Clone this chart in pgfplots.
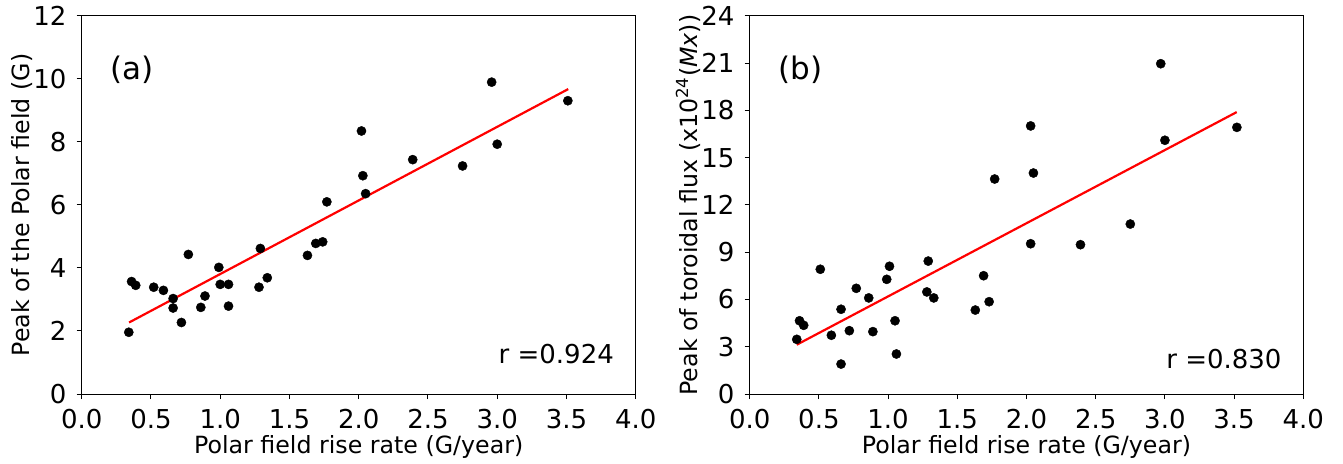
\documentclass[border=0pt]{standalone}
\usepackage{fontspec}
\setmainfont{DejaVu Sans}
\usepackage{pgfplots}
\usepackage{pgfplotstable}
\pgfplotsset{compat=1.18}

\pgfplotstableread{
x y
0.34 1.96
0.36 3.57
0.39 3.45
0.52 3.39
0.59 3.29
0.66 3.03
0.66 2.73
0.72 2.27
0.77 4.43
0.86 2.75
0.89 3.11
0.99 4.02
1.00 3.48
1.06 3.48
1.06 2.79
1.28 3.39
1.29 4.62
1.34 3.69
1.63 4.40
1.69 4.78
1.74 4.83
1.77 6.10
2.02 8.35
2.03 6.93
2.05 6.36
2.39 7.44
2.75 7.24
2.96 9.90
3.00 7.93
3.51 9.31
}\dataA

\pgfplotstableread{
x y
0.34 3.47
0.36 4.65
0.39 4.36
0.51 7.92
0.59 3.73
0.66 5.38
0.66 1.90
0.72 4.02
0.77 6.71
0.86 6.10
0.89 3.96
0.99 7.28
1.01 8.11
1.05 4.65
1.06 2.54
1.29 8.44
1.28 6.48
1.33 6.10
1.63 5.33
1.69 7.51
1.73 5.86
1.77 13.65
2.03 17.02
2.03 9.54
2.05 14.03
2.39 9.48
2.75 10.79
2.97 20.97
3.00 16.11
3.52 16.93
}\dataB

\begin{document}
\begin{tikzpicture}
\useasboundingbox (0,0) rectangle (1343pt,463pt);
\pgfplotsset{
  myax/.style={
    scale only axis, height=378pt,
    anchor=south west,
    xmin=0, xmax=4, ymin=0,
    xtick={0,0.5,1,1.5,2,2.5,3,3.5,4},
    xticklabels={0.0,0.5,1.0,1.5,2.0,2.5,3.0,3.5,4.0},
    tick align=outside, major tick length=5pt,
    xtick pos=bottom, ytick pos=left,
    axis line style={line width=1pt, black},
    tick style={line width=1pt, black},
    /pgf/number format/assume math mode=true,
    ticklabel style={font=\fontsize{26}{30}\selectfont, inner sep=0pt},
    xticklabel style={anchor=north, yshift=-10pt},
    yticklabel style={anchor=east, xshift=-10pt},
    label style={font=\fontsize{23.7}{28}\selectfont, inner sep=0pt},
    xlabel style={at={(axis description cs:0.5,0)}, anchor=base, yshift=-59pt},
    clip=false,
  }
}
\begin{axis}[myax, at={(81.7pt,69pt)}, width=554pt,
  ymax=12, ytick={0,2,4,6,8,10,12},
  xlabel={Polar field rise rate (G/year)},
  ylabel={Peak of the Polar field (G)},
  ylabel style={at={(axis description cs:-0.108,0.5)}, anchor=center, rotate=0},
]
\addplot[only marks, mark=*, mark size=4.6pt, black] table {\dataA};
\addplot[red, line width=2.2pt] coordinates {(0.342,2.27) (3.513,9.68)};
\node[font=\fontsize{31}{36}\selectfont, anchor=center] at (axis description cs:0.091,0.858) {(a)};
\node[font=\fontsize{26}{30}\selectfont, anchor=base east, inner sep=0pt] at (axis description cs:0.961,0.081) {r =0.924};
\end{axis}
\begin{axis}[myax, at={(749.7pt,69pt)}, width=553.6pt,
  ymax=24, ytick={0,3,6,9,12,15,18,21,24},
  xlabel={Polar field rise rate (G/year)},
  ylabel={Peak of toroidal flux (x10\textsuperscript{24}(\textit{Mx}))},
  ylabel style={at={(axis description cs:-0.1115,0.5)}, anchor=center, rotate=0},
]
\addplot[only marks, mark=*, mark size=4.6pt, black] table {\dataB};
\addplot[red, line width=2.2pt] coordinates {(0.34,3.13) (3.519,17.90)};
\node[font=\fontsize{31}{36}\selectfont, anchor=center] at (axis description cs:0.092,0.858) {(b)};
\node[font=\fontsize{26}{30}\selectfont, anchor=base east, inner sep=0pt] at (axis description cs:0.961,0.068) {r =0.830};
\end{axis}
\end{tikzpicture}
\end{document}
